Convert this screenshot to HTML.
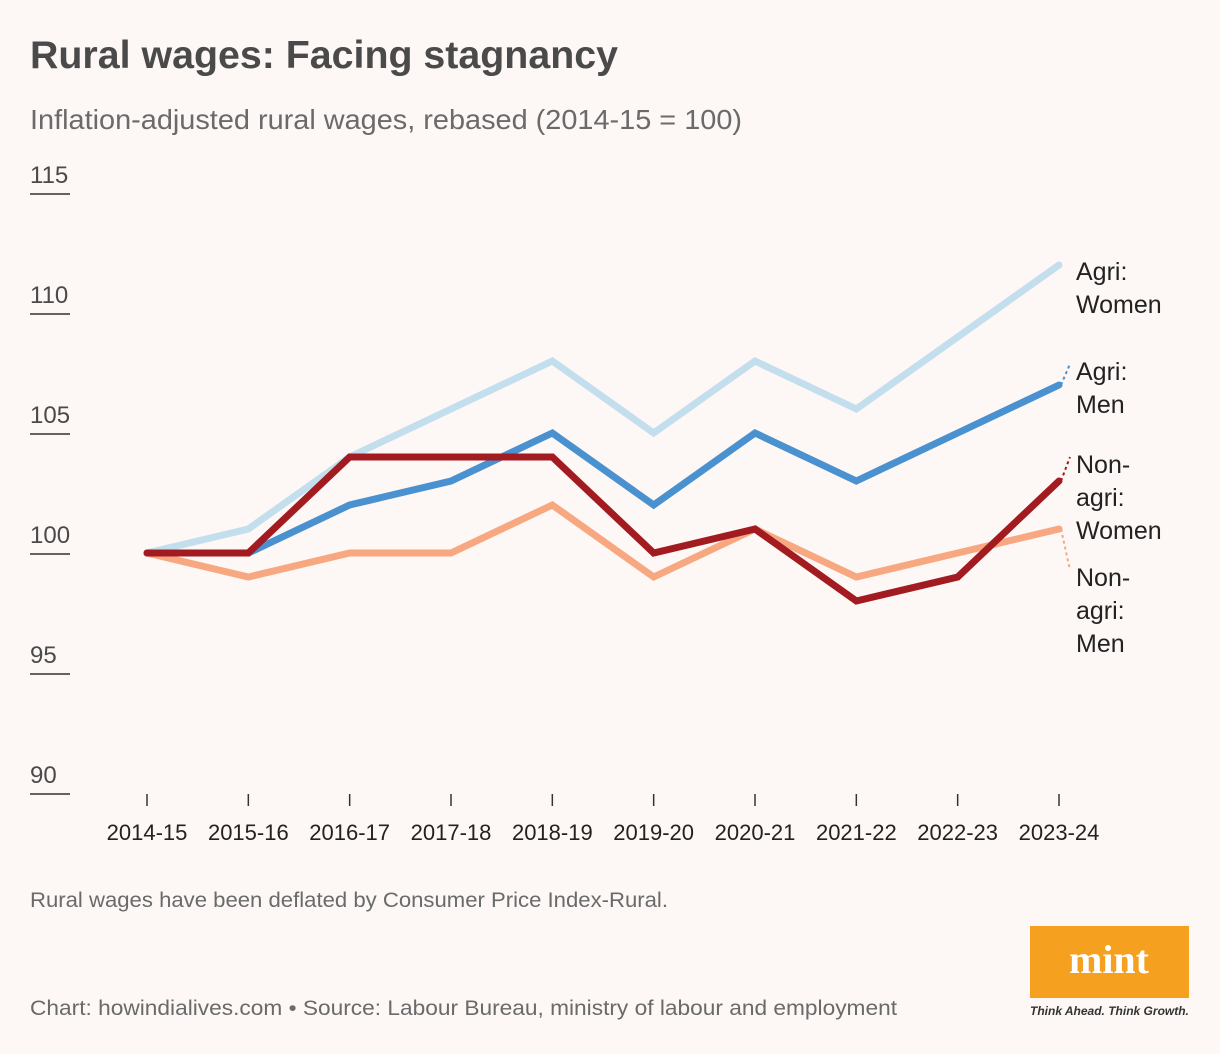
<!DOCTYPE html>
<html><head><meta charset="utf-8"><style>
body{margin:0;background:#fdf7f6;font-family:"Liberation Sans",sans-serif;}
#wrap{position:relative;width:1220px;height:1054px;overflow:hidden;background:#fdf7f6;}
</style></head><body>
<div id="wrap">
<svg id="chart" width="1220" height="1054" style="position:absolute;left:0;top:0">
<text x="30" y="68" font-size="39" font-weight="bold" fill="#4a4a4a" textLength="588" lengthAdjust="spacingAndGlyphs">Rural wages: Facing stagnancy</text>
<text x="30" y="129" font-size="28" fill="#6a6a6a" textLength="712" lengthAdjust="spacingAndGlyphs">Inflation-adjusted rural wages, rebased (2014-15 = 100)</text>
<g id="yaxis"></g>
<g id="xaxis"></g>
<g id="lines"></g>
<g id="labels"></g>
<text x="30" y="907" font-size="21" fill="#6a6a6a" textLength="638" lengthAdjust="spacingAndGlyphs">Rural wages have been deflated by Consumer Price Index-Rural.</text>
<text x="30" y="1015" font-size="21" fill="#6a6a6a" textLength="867" lengthAdjust="spacingAndGlyphs">Chart: howindialives.com • Source: Labour Bureau, ministry of labour and employment</text>
<rect x="1030" y="926" width="159" height="72" fill="#f5a01f"/>
<text x="1109" y="973" font-size="40" font-weight="bold" font-family="Liberation Serif,serif" fill="#fff" text-anchor="middle">mint</text>
<text x="1030" y="1015" font-size="12" font-style="italic" font-weight="bold" fill="#333">Think Ahead. Think Growth.</text>
</svg>
</div>
<script>
const categories=["2014-15","2015-16","2016-17","2017-18","2018-19","2019-20","2020-21","2021-22","2022-23","2023-24"];
const yTicks=[90,95,100,105,110,115];
const agriWomen=[100,101,104,106,108,105,108,106,109,112];
const agriMen=[100,100,102,103,105,102,105,103,105,107];
const nonAgriWomen=[100,100,104,104,104,100,101,98,99,103];
const nonAgriMen=[100,99,100,100,102,99,101,99,100,101];
const NS="http://www.w3.org/2000/svg";
const x=i=>147+i*(1059-147)/(categories.length-1);
const y=v=>553-(v-100)*24;
function mk(tag,attrs,parent){const e=document.createElementNS(NS,tag);for(const k in attrs)e.setAttribute(k,attrs[k]);parent.appendChild(e);return e;}
const ya=document.getElementById('yaxis');
yTicks.forEach(t=>{
  const tx=mk('text',{x:30,y:y(t)-10,'font-size':24,fill:'#4a4a4a'},ya);tx.textContent=t;
  
  
  const l=mk('line',{x1:30,x2:70,y1:y(t)+1,y2:y(t)+1,stroke:'#333','stroke-width':1.5},ya);
  
  
});
const xa=document.getElementById('xaxis');
categories.forEach((c,i)=>{
  const l=mk('line',{x1:x(i),x2:x(i),y1:794,y2:806,stroke:'#333','stroke-width':1.5},xa);
  
  
  const t=mk('text',{x:x(i),y:840,'font-size':22,fill:'#222','text-anchor':'middle'},xa);t.textContent=c;
  
  
});
const lg=document.getElementById('lines');
const series=[[agriWomen,'#c3dfee','agri-women-line'],[agriMen,'#4a91cf','agri-men-line'],[nonAgriMen,'#f8a880','non-agri-men-line'],[nonAgriWomen,'#a21b20','non-agri-women-line']];
series.forEach(([d,col,name])=>{
  const p=mk('polyline',{points:d.map((v,i)=>x(i)+','+y(v)).join(' '),fill:'none',stroke:col,'stroke-width':7,'stroke-linejoin':'miter','stroke-linecap':'round'},lg);
  
  
});
const lab=document.getElementById('labels');
const labs=[[['Agri:','Women'],272,agriWomen,'#c3dfee'],[['Agri:','Men'],372,agriMen,'#4a91cf'],[['Non-','agri:','Women'],465,nonAgriWomen,'#a21b20'],[['Non-','agri:','Men'],578,nonAgriMen,'#f8a880']];
labs.forEach(([lines,ty,d,col])=>{
  const last=y(d[d.length-1]);
  if(Math.abs(ty-8-last)>12){
    const c=mk('line',{x1:1061,y1:last,x2:1070,y2:ty-8,stroke:col,'stroke-width':2,'stroke-dasharray':'3 3'},lab);
    
    
  }
  lines.forEach((s,k)=>{
    const t=mk('text',{x:1076,y:ty+8+k*33,'font-size':25,fill:'#222'},lab);t.textContent=s;
    
    
  });
});
</script>
</body></html>
